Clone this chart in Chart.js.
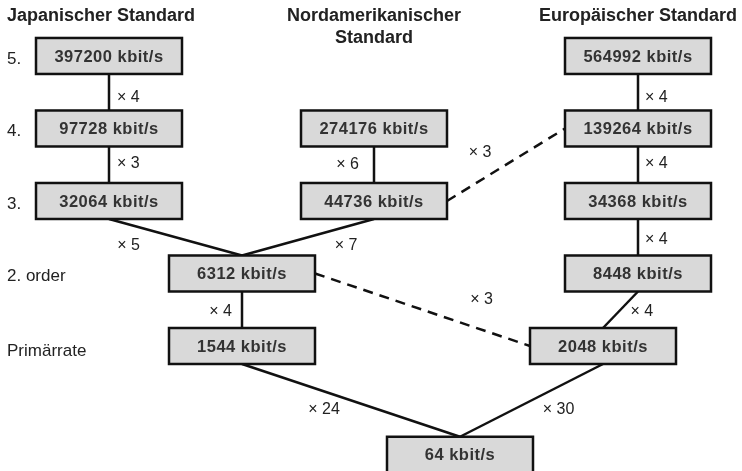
<!DOCTYPE html>
<html>
<head>
<meta charset="utf-8">
<script src="https://cdn.jsdelivr.net/npm/chart.js@4"></script>
<style>
  body { margin: 0; background: #fff; }
</style>
</head>
<body>
<canvas id="myChart" width="742" height="471"></canvas>
<script>
// hierarchy levels (row labels on the left)
const levels = [5, 4, 3, 2, 1];
const levelLabels = ["5.", "4.", "3.", "2. order", "Primärrate"];

// column headers
const standards = ["Japanischer Standard", "Nordamerikanischer\nStandard", "Europäischer Standard"];
const standardColumns = ["JP", "NA", "EU"];

// boxes: rate in kbit/s, level, column
const rates = [397200, 97728, 32064, 274176, 44736, 6312, 1544, 564992, 139264, 34368, 8448, 2048, 64];
const rateLevels = [5, 4, 3, 4, 3, 2, 1, 5, 4, 3, 2, 1, -0.5];
const rateColumns = ["JP", "JP", "JP", "NA", "NA", "MID", "MID", "EU", "EU", "EU", "EU", "EU2", "ROOT"];

// connections between boxes and their multiplexing factor
const linkFrom = [0, 1, 3, 2, 4, 5, 4, 5, 7, 8, 9, 10, 6, 11];
const linkTo = [1, 2, 4, 5, 5, 6, 8, 11, 8, 9, 10, 11, 12, 12];
const linkFactors = [4, 3, 6, 5, 7, 4, 3, 3, 4, 4, 4, 4, 24, 30];
const linkDashed = [false, false, false, false, false, false, true, true, false, false, false, false, false, false];

// layout only
const colX = { JP: 109, MID: 242, NA: 374, ROOT: 460, EU2: 603, EU: 638 };
const BOX_W = 146, BOX_H = 36, LEVEL_PX = 72.5;
const HALF_H = (BOX_H / 2) / LEVEL_PX;
const factorPos = [
  [8, 5, "left"], [8, -1, "left"], [-15, 0, "right"], [-47, 8, "center"], [38, 8, "center"],
  [-10, 2, "right"], [-26, -12, "center"], [59, -10, "center"], [7, 5, "left"], [7, -1, "left"],
  [7, 2, "left"], [10, 2, "left"], [-27, 9, "center"], [27, 9, "center"]
];
const FONT = '"Liberation Sans", Arial, sans-serif';

function anchor(i, side) {
  const x = colX[rateColumns[i]], y = rateLevels[i];
  if (side == "top") return { x: x, y: y + HALF_H };
  if (side == "bottom") return { x: x, y: y - HALF_H };
  if (side == "left") return { x: x - BOX_W / 2, y: y };
  return { x: x + BOX_W / 2, y: y };
}

const datasets = linkFrom.map((a, i) => {
  const b = linkTo[i];
  const pts = linkDashed[i] ? [anchor(a, "right"), anchor(b, "left")] : [anchor(a, "bottom"), anchor(b, "top")];
  return {
    label: "x" + linkFactors[i],
    data: pts,
    showLine: true,
    borderColor: "#111",
    borderWidth: 2.5,
    borderDash: linkDashed[i] ? [10, 7] : [],
    pointRadius: 0,
    fill: false
  };
});

const diagram = {
  id: "diagram",
  afterDatasetsDraw(chart) {
    const ctx = chart.ctx;
    const xs = chart.scales.x, ys = chart.scales.y;
    ctx.save();

    // multiplier labels
    ctx.fillStyle = "#222";
    ctx.font = "16px " + FONT;
    ctx.textBaseline = "middle";
    linkFrom.forEach((a, i) => {
      const m = chart.getDatasetMeta(i).data;
      const mx = (m[0].x + m[1].x) / 2, my = (m[0].y + m[1].y) / 2;
      const p = factorPos[i];
      ctx.textAlign = p[2];
      ctx.fillText("\u00d7 " + linkFactors[i], mx + p[0], my + p[1]);
    });

    // boxes
    rates.forEach((r, i) => {
      const cx = xs.getPixelForValue(colX[rateColumns[i]]);
      const cy = ys.getPixelForValue(rateLevels[i]);
      ctx.fillStyle = "#d9d9d9";
      ctx.fillRect(cx - BOX_W / 2, cy - BOX_H / 2, BOX_W, BOX_H);
      ctx.strokeStyle = "#111";
      ctx.lineWidth = 2.5;
      ctx.strokeRect(cx - BOX_W / 2, cy - BOX_H / 2, BOX_W, BOX_H);
      ctx.fillStyle = "#333";
      ctx.font = "bold 16.5px " + FONT;
      ctx.letterSpacing = "0.5px";
      ctx.textAlign = "center";
      ctx.fillText(r + " kbit/s", cx, cy + 1);
      ctx.letterSpacing = "0px";
    });

    // row labels
    ctx.fillStyle = "#222";
    ctx.font = "17px " + FONT;
    ctx.textAlign = "left";
    levels.forEach((lv, i) => {
      ctx.fillText(levelLabels[i], 7, ys.getPixelForValue(lv) + (lv == 1 ? 5 : 3));
    });

    // headers
    ctx.font = "bold 18px " + FONT;
    standards.forEach((s, i) => {
      const lines = s.split("\n");
      if (i == 0) {
        ctx.textAlign = "left";
        ctx.fillText(lines[0], 7, 16);
      } else {
        ctx.textAlign = "center";
        lines.forEach((t, k) => ctx.fillText(t, xs.getPixelForValue(colX[standardColumns[i]]), 16 + k * 22));
      }
    });
    ctx.restore();
  }
};

new Chart(document.getElementById("myChart"), {
  type: "scatter",
  data: { datasets: datasets },
  options: {
    responsive: false,
    animation: false,
    layout: { padding: 0 },
    scales: {
      x: { type: "linear", min: 0, max: 742, display: false },
      y: { type: "linear", min: -0.724, max: 5.772, display: false }
    },
    plugins: { legend: { display: false }, tooltip: { enabled: false } }
  },
  plugins: [diagram]
});
</script>
</body>
</html>
